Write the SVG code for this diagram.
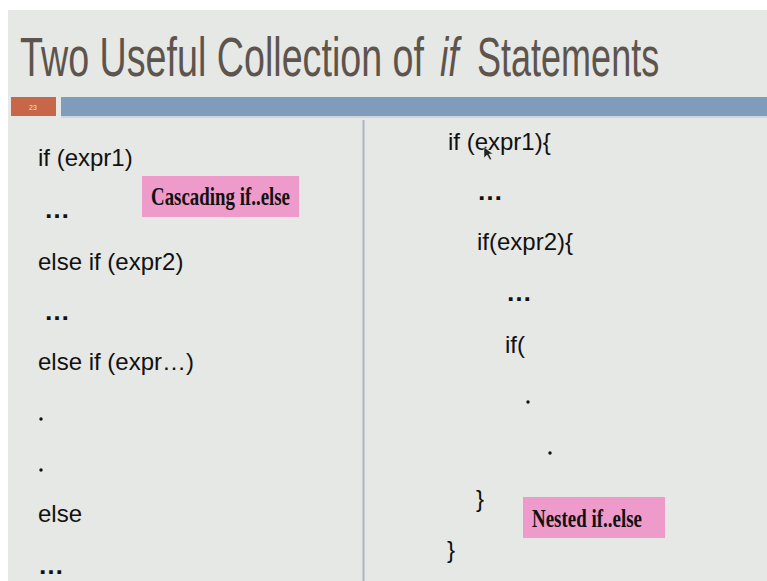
<svg xmlns="http://www.w3.org/2000/svg" width="767" height="581" viewBox="0 0 767 581">
  <style>
    .title { font-family: "Liberation Sans", Arial, sans-serif; font-size: 55px; fill: #5e544e; }
    .code { font-family: "Liberation Sans", Arial, sans-serif; font-size: 24px; fill: #111; }
    .dots { font-family: "Liberation Sans", Arial, sans-serif; font-size: 26px; font-weight: bold; fill: #111; }
    .tag { font-family: "Liberation Serif", "Times New Roman", serif; font-size: 25px; font-weight: bold; fill: #111; }
    .tagbox { fill: #ee9bcb; }
  </style>
  <!-- page and slide background -->
  <rect x="0" y="0" width="767" height="581" fill="#ffffff"/>
  <rect x="8" y="10" width="759" height="571" fill="#e6e8e5"/>

  <!-- heading: three runs, each squeezed horizontally to a condensed face -->
  <g id="title">
    <g transform="translate(20,76) scale(0.685,1)">
      <text class="title" x="0" y="0">Two Useful Collection of</text>
    </g>
    <g transform="translate(440,76) scale(0.68,1)">
      <text class="title" x="0" y="0" font-style="italic">if</text>
    </g>
    <g transform="translate(477,76) scale(0.655,1)">
      <text class="title" x="0" y="0">Statements</text>
    </g>
  </g>

  <!-- slide number tab and rule -->
  <g id="header-bar">
    <rect x="11" y="97" width="45" height="19" fill="#c8664a"/>
    <text x="33" y="110" font-family="Liberation Sans, Arial, sans-serif" font-size="7" fill="#f4e2dc" text-anchor="middle">23</text>
    <rect x="61" y="97" width="706" height="19" fill="#7f9cba"/>
    <rect x="61" y="116" width="706" height="2" fill="#cdd6df"/>
  </g>

  <!-- column divider -->
  <g id="divider">
    <rect x="362.5" y="120" width="2" height="461" fill="#a9b4c0"/>
  </g>

  <!-- left column: cascading form -->
  <g id="cascading">
    <text class="code" x="38" y="166">if (expr1)</text>
    <text class="dots" x="44" y="218">…</text>
    <text class="code" x="38" y="270">else if (expr2)</text>
    <text class="dots" x="44" y="320">…</text>
    <text class="code" x="38" y="370">else if (expr…)</text>
    <circle cx="41" cy="419" r="1.7" fill="#111"/>
    <circle cx="41" cy="470" r="1.7" fill="#111"/>
    <text class="code" x="38" y="522">else</text>
    <text class="dots" x="38" y="574">…</text>
  </g>

  <g id="cascading-label">
    <rect class="tagbox" x="142" y="176" width="157" height="41"/>
    <text class="tag" x="151" y="205" textLength="139" lengthAdjust="spacingAndGlyphs">Cascading if..else</text>
  </g>

  <!-- right column: nested form -->
  <g id="nested">
    <text class="code" x="448" y="150">if (expr1){</text>
    <text class="dots" x="477" y="200">…</text>
    <text class="code" x="477" y="250">if(expr2){</text>
    <text class="dots" x="506" y="301">…</text>
    <text class="code" x="505" y="353">if(</text>
    <circle cx="528" cy="402" r="1.7" fill="#111"/>
    <circle cx="550" cy="453" r="1.7" fill="#111"/>
    <text class="code" x="476" y="507">}</text>
    <text class="code" x="447" y="558">}</text>
  </g>

  <g id="nested-label">
    <rect class="tagbox" x="523" y="497" width="142" height="41"/>
    <text class="tag" x="532" y="527" textLength="110" lengthAdjust="spacingAndGlyphs">Nested if..else</text>
  </g>

  <!-- mouse pointer -->
  <g id="pointer">
    <polygon points="484,147 484,158 487,155 490,160 491.5,159 489,154 493,154" fill="#222" stroke="#eee" stroke-width="0.5"/>
  </g>
</svg>
